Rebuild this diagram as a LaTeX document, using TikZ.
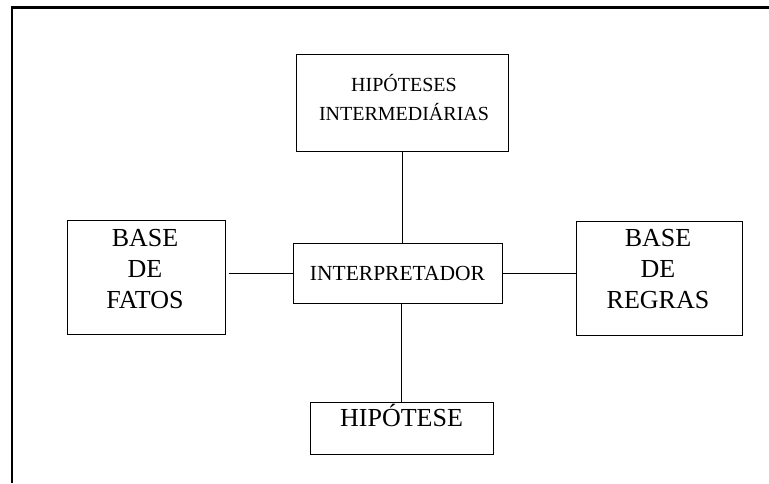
\documentclass[tikz,border=0pt]{standalone}
\usepackage{fontspec}
\setmainfont{Liberation Serif}
\begin{document}
\begin{tikzpicture}[x=1pt,y=-1pt,
  box/.style={draw=black,line width=1pt,inner sep=0pt,rectangle},
  smalltxt/.style={anchor=base,inner sep=0pt,font=\fontsize{20}{24}\selectfont},
  midtxt/.style={anchor=base,inner sep=0pt,font=\fontsize{21.5}{26}\selectfont},
  bigtxt/.style={anchor=base,inner sep=0pt,font=\fontsize{26}{31}\selectfont},
  link/.style={draw=black,line width=1pt}]
\useasboundingbox (0,0) rectangle (769,483);
% page frame (top and left edges)
\draw[line width=2.2pt] (12,483) -- (12,7.5) -- (769,7.5);

% boxes
\node[box,minimum width=212pt,minimum height=97pt] (hyp) at (402,102.5) {};
\node[box,minimum width=209pt,minimum height=60pt] (interp) at (397.5,273) {};
\node[box,minimum width=158pt,minimum height=114pt] (fatos) at (146,277) {};
\node[box,minimum width=166pt,minimum height=114pt] (regras) at (659,278) {};
\node[box,minimum width=183pt,minimum height=52pt] (hip) at (401.5,428) {};

% labels
\node[smalltxt] (hypA) at (404,91.7) {HIPÓTESES};
\node[smalltxt] (hypB) at (404,120) {INTERMEDIÁRIAS};
\node[midtxt] (interpT) at (397.5,280) {INTERPRETADOR};
\node[bigtxt] (fatosA) at (145,246.7) {BASE};
\node[bigtxt] (fatosB) at (145,277.3) {DE};
\node[bigtxt] (fatosC) at (145,308.3) {FATOS};
\node[bigtxt] (regrasA) at (658,246.5) {BASE};
\node[bigtxt] (regrasB) at (658,277.3) {DE};
\node[bigtxt] (regrasC) at (658,308.3) {REGRAS};
\node[bigtxt] (hipT) at (401.5,426.7) {HIPÓTESE};

% connectors
\draw[link] (hyp.south) -- (hyp.south |- interp.north);
\draw[link] (interp.south -| hip.north) -- (hip.north);
\draw[link,shorten <=3pt] (fatos.east |- interp.west) -- (interp.west);
\draw[link] (interp.east) -- (regras.west |- interp.east);
\end{tikzpicture}
\end{document}
